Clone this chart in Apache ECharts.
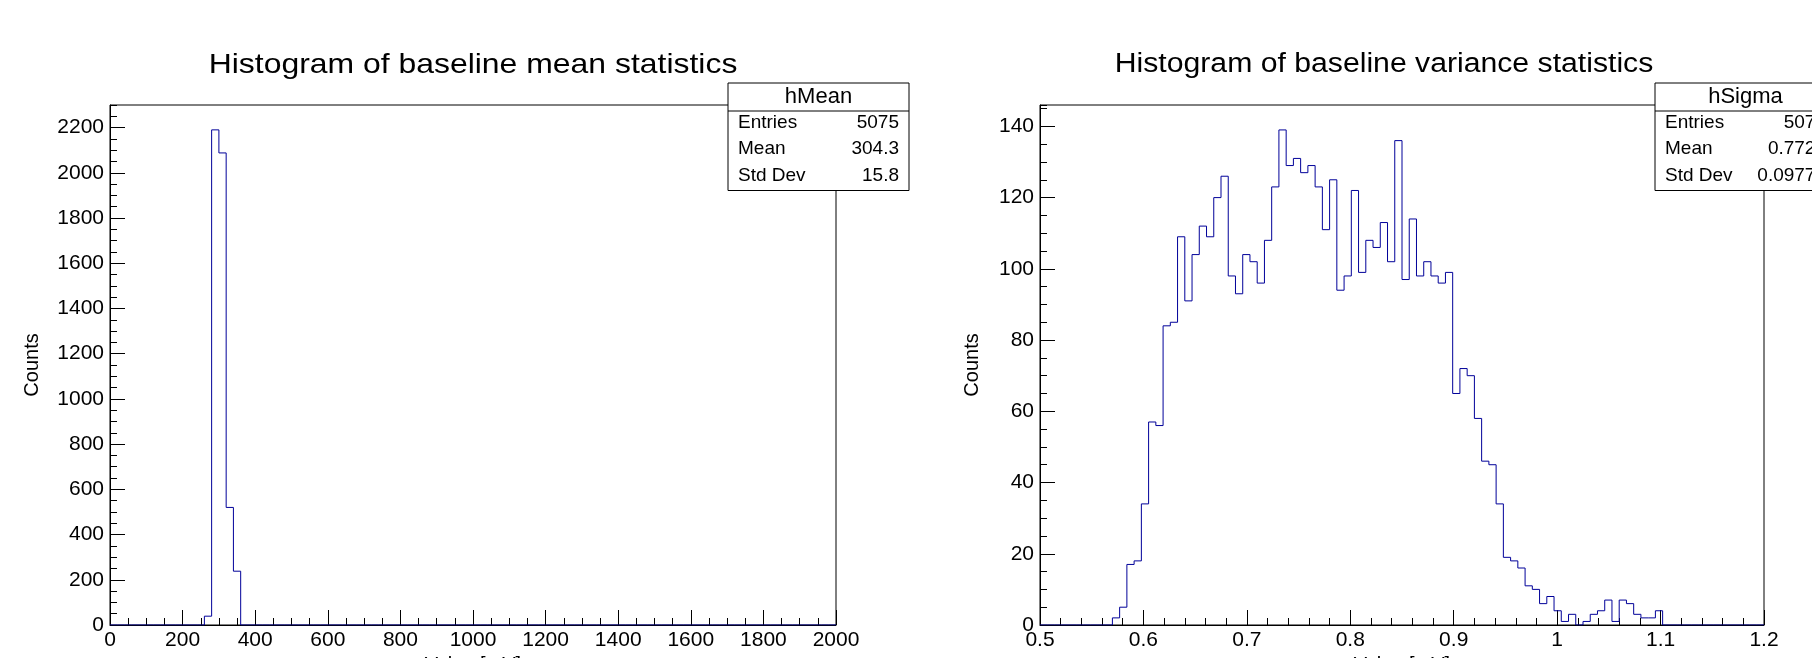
<!DOCTYPE html>
<html>
<head>
<meta charset="utf-8">
<title>baseline statistics</title>
<script src="https://cdn.jsdelivr.net/npm/echarts@6.0.0/dist/echarts.min.js"></script>
<style>
html,body{margin:0;padding:0;background:#fff;}
#chart{width:1812px;height:658px;}
</style>
</head>
<body>
<div id="chart"></div>
<script>
// hMean : 100 bins, 0 .. 2000 mV
var meanRange = [0, 2000];
var meanCounts = [
    0,0,0,0,0,0,0,0,0,0, 0,0,0,39,2190,2088,520,238,0,0,
    0,0,0,0,0,0,0,0,0,0, 0,0,0,0,0,0,0,0,0,0,
    0,0,0,0,0,0,0,0,0,0, 0,0,0,0,0,0,0,0,0,0,
    0,0,0,0,0,0,0,0,0,0, 0,0,0,0,0,0,0,0,0,0,
    0,0,0,0,0,0,0,0,0,0, 0,0,0,0,0,0,0,0,0,0
];
var meanStats = [['Entries', '5075'], ['Mean', '304.3'], ['Std Dev', '15.8']];

// hSigma : 100 bins, 0.5 .. 1.2 mV
var sigmaRange = [0.5, 1.2];
var sigmaCounts = [
    0,0,0,0,0,0,0,0,0,0,
    2,5,17,18,34,57,56,84,85,109,
    91,104,112,109,120,126,98,93,104,102,
    96,108,123,139,129,131,127,129,123,111,
    125,94,98,122,99,108,106,113,102,136,
    97,114,98,102,98,96,99,65,72,70,
    58,46,45,34,19,18,16,11,10,6,
    8,4,1,3,0,1,3,4,7,1,
    7,6,3,2,2,4,0,0,0,0,
    0,0,0,0,0,0,0,0,0,0
];
var sigmaStats = [['Entries', '5075'], ['Mean', '0.7723'], ['Std Dev', '0.09774']];

var FONT = 'Liberation Sans, Arial, Helvetica, sans-serif';
var BLUE = '#000099';

// bin edges -> points for a stepped outline
function toSteps(counts, range) {
    var w = (range[1] - range[0]) / counts.length;
    var pts = [];
    for (var i = 0; i < counts.length; i++) {
        pts.push([range[0] + i * w, counts[i]]);
    }
    pts.push([range[1], counts[counts.length - 1]]);
    return pts;
}

// plain numbers, no thousands separator
function plain(v) {
    return String(Math.round(v * 1e6) / 1e6);
}

function xAxisOf(grid, range, interval, minorSplit) {
    return {
        gridIndex: grid, type: 'value', position: 'bottom',
        min: range[0], max: range[1], interval: interval,
        name: 'Value [mV]', nameLocation: 'middle', nameGap: 25,
        nameTextStyle: {fontSize: 20, color: '#000', fontFamily: FONT},
        axisLine: {onZero: false, lineStyle: {color: '#000', width: 1}},
        axisTick: {inside: true, length: 15, lineStyle: {color: '#000'}},
        minorTick: {show: true, splitNumber: minorSplit, length: 7, lineStyle: {color: '#000'}},
        splitLine: {show: false},
        axisLabel: {fontSize: 21, color: '#000', margin: 5, fontFamily: FONT, formatter: plain}
    };
}

function yAxisOf(grid, max, interval, gap) {
    return {
        gridIndex: grid, type: 'value', position: 'left',
        min: 0, max: max, interval: interval,
        name: 'Counts', nameLocation: 'middle', nameGap: gap,
        nameTextStyle: {fontSize: 20, color: '#000', fontFamily: FONT},
        axisLine: {show: true, onZero: false, lineStyle: {color: '#000', width: 1}},
        axisTick: {inside: true, length: 15, lineStyle: {color: '#000'}},
        splitLine: {show: false},
        axisLabel: {fontSize: 21, color: '#000', margin: 6, fontFamily: FONT, showMaxLabel: false, formatter: plain}
    };
}

// extra axis only for the small ticks
function yMinorOf(grid, max, interval) {
    return {
        gridIndex: grid, type: 'value', position: 'left', offset: 0,
        min: 0, max: max, interval: interval,
        axisLine: {show: false},
        axisTick: {show: true, inside: true, length: 7, lineStyle: {color: '#000'}},
        axisLabel: {show: false},
        splitLine: {show: false}
    };
}

function statsBox(x, title, rows) {
    var w = 181, top = 83, head = 28, rowH = 26.5;
    var els = [
        {type: 'rect', shape: {x: x, y: top, width: w, height: head + rowH * rows.length},
         style: {fill: '#fff', stroke: '#000', lineWidth: 1}},
        {type: 'line', shape: {x1: x, y1: top + head, x2: x + w, y2: top + head},
         style: {stroke: '#000', lineWidth: 1}},
        {type: 'text', x: x + w / 2, y: top + head / 2,
         style: {text: title, fontSize: 22, fontFamily: FONT, fill: '#000', align: 'center', verticalAlign: 'middle'}}
    ];
    rows.forEach(function (r, i) {
        var cy = top + head + rowH * i + rowH / 2 - 1.5;
        els.push({type: 'text', x: x + 10, y: cy,
            style: {text: r[0], fontSize: 19, fontFamily: FONT, fill: '#000', align: 'left', verticalAlign: 'middle'}});
        els.push({type: 'text', x: x + w - 10, y: cy,
            style: {text: r[1], fontSize: 19, fontFamily: FONT, fill: '#000', align: 'right', verticalAlign: 'middle'}});
    });
    return {type: 'group', z: 100, children: els};
}

function titleText(cx, text, size, sx) {
    return {type: 'text', x: cx, y: 65, scaleX: sx, z: 100,
        style: {text: text, fontSize: size, fontFamily: FONT, fill: '#000', align: 'center', verticalAlign: 'middle'}};
}

var chart = echarts.init(document.getElementById('chart'));
chart.setOption({
    animation: false,
    backgroundColor: '#fff',
    textStyle: {fontFamily: FONT},
    grid: [
        {left: 110, top: 105, width: 726, height: 520, show: true, borderColor: '#000', borderWidth: 1, containLabel: false, outerBoundsMode: 'none'},
        {left: 1040, top: 105, width: 724, height: 520, show: true, borderColor: '#000', borderWidth: 1, containLabel: false, outerBoundsMode: 'none'}
    ],
    xAxis: [
        xAxisOf(0, meanRange, 200, 4),
        xAxisOf(1, sigmaRange, 0.1, 5)
    ],
    yAxis: [
        yAxisOf(0, 2300, 200, 68),
        yMinorOf(0, 2300, 50),
        yAxisOf(1, 146, 20, 58),
        yMinorOf(1, 146, 5)
    ],
    series: [
        {name: 'hMean', type: 'line', xAxisIndex: 0, yAxisIndex: 0, step: 'end', symbol: 'none',
         lineStyle: {color: BLUE, width: 1}, data: toSteps(meanCounts, meanRange), z: 5},
        {name: 'hSigma', type: 'line', xAxisIndex: 1, yAxisIndex: 2, step: 'end', symbol: 'none',
         lineStyle: {color: BLUE, width: 1}, data: toSteps(sigmaCounts, sigmaRange), z: 5}
    ],
    graphic: [
        titleText(473, 'Histogram of baseline mean statistics', 28, 1.14),
        titleText(1384, 'Histogram of baseline variance statistics', 27, 1.118),
        statsBox(728, 'hMean', meanStats),
        statsBox(1655, 'hSigma', sigmaStats)
    ]
});
</script>
</body>
</html>
